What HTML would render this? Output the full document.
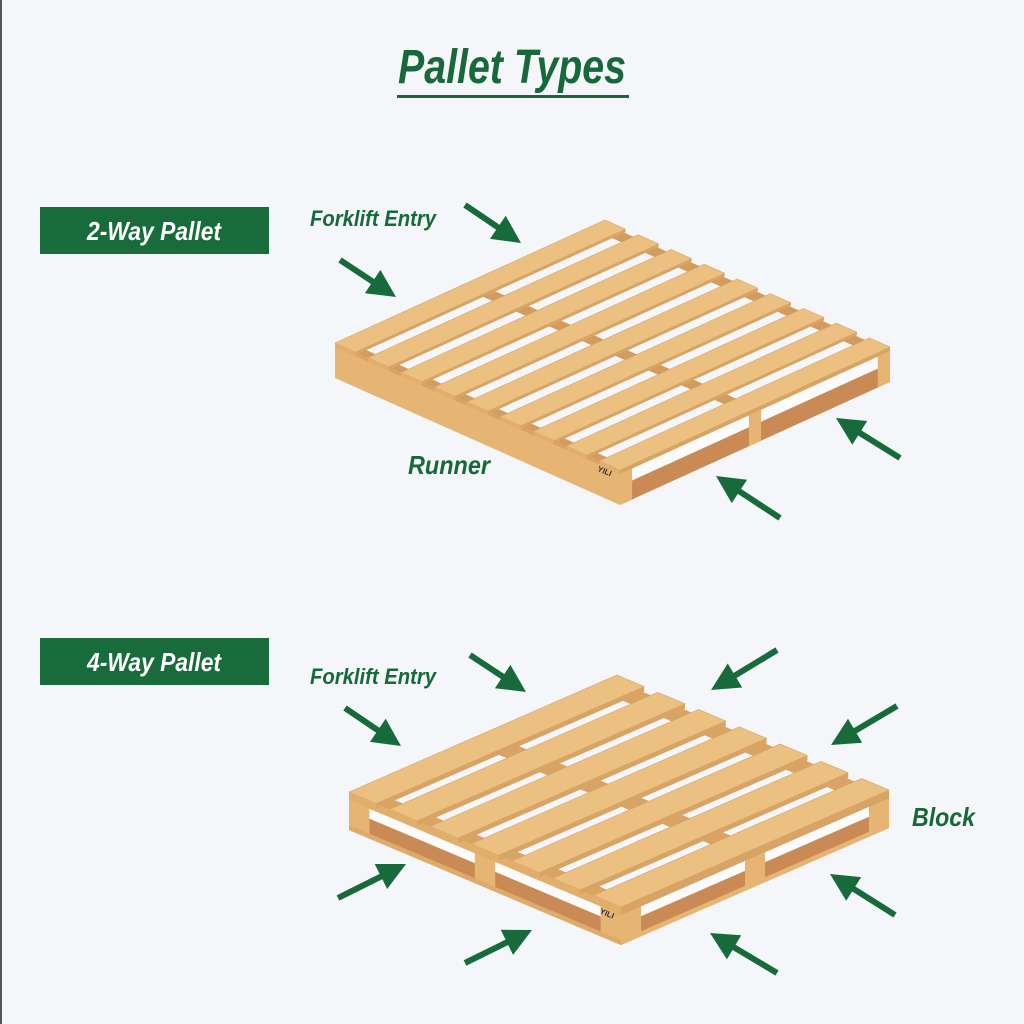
<!DOCTYPE html>
<html><head><meta charset="utf-8"><style>
html,body{margin:0;padding:0;background:#f4f6f9;}
svg{display:block}
</style></head><body>
<svg id="s" width="1024" height="1024" viewBox="0 0 1024 1024" xmlns="http://www.w3.org/2000/svg">
<rect width="1024" height="1024" fill="#f4f6f9"/>
<rect x="0" y="0" width="2" height="1024" fill="#555"/>
<text x="512" y="83" text-anchor="middle" font-family="Liberation Sans, sans-serif" font-weight="bold" font-style="italic" font-size="48" fill="#17683a" textLength="228" lengthAdjust="spacingAndGlyphs">Pallet Types</text>
<rect x="397" y="95" width="232" height="3" fill="#17683a"/>
<rect x="40" y="207" width="229" height="47" fill="#186b3b"/>
<text x="154" y="240" text-anchor="middle" font-family="Liberation Sans, sans-serif" font-weight="bold" font-style="italic" font-size="26" fill="#fff" textLength="134" lengthAdjust="spacingAndGlyphs">2-Way Pallet</text>
<rect x="40" y="638" width="229" height="47" fill="#186b3b"/>
<text x="154" y="671" text-anchor="middle" font-family="Liberation Sans, sans-serif" font-weight="bold" font-style="italic" font-size="26" fill="#fff" textLength="134" lengthAdjust="spacingAndGlyphs">4-Way Pallet</text>
<g font-family="Liberation Sans, sans-serif" font-weight="bold" font-style="italic" fill="#17683a">
<text x="310" y="226" font-size="22" textLength="126" lengthAdjust="spacingAndGlyphs">Forklift Entry</text>
<text x="310" y="684" font-size="22" textLength="126" lengthAdjust="spacingAndGlyphs">Forklift Entry</text>
<text x="408" y="474" font-size="26" textLength="82" lengthAdjust="spacingAndGlyphs">Runner</text>
<text x="912" y="826" font-size="26" textLength="63" lengthAdjust="spacingAndGlyphs">Block</text>
</g>
<g id="g"></g>
</svg>
<script>
var NS="http://www.w3.org/2000/svg",G=document.getElementById('g');
function el(t,a){var e=document.createElementNS(NS,t);for(var k in a)e.setAttribute(k,a[k]);G.appendChild(e);return e;}
function poly(pts,fill,stroke){el('polygon',{points:pts.map(function(p){return p[0].toFixed(1)+','+p[1].toFixed(1)}).join(' '),fill:fill,stroke:stroke||'none','stroke-width':0.6});}
function mk(L,A,B){return function(u,v,z){return [L[0]+u*A[0]+v*B[0],L[1]+u*A[1]+v*B[1]+(z||0)];};}
var TOP='#ebc081',EDGE='#d8a466',FACE='#e6b574',DARK='#c98a55',WHITE='#fbfbfb',LN='#d4a66a';
function quadU(P,u0,u1,v,z0,z1,f){poly([P(u0,v,z0),P(u1,v,z0),P(u1,v,z1),P(u0,v,z1)],f);}
function quadV(P,u,v0,v1,z0,z1,f){poly([P(u,v0,z0),P(u,v1,z0),P(u,v1,z1),P(u,v0,z1)],f);}
function topq(P,u0,u1,v0,v1,z,f,s){poly([P(u0,v0,z),P(u1,v0,z),P(u1,v1,z),P(u0,v1,z)],f,s);}

// ---- 2-way pallet
(function(){
 var L=[335,343],A=[270,-123],B=[285,127],H=35,P=mk(L,A,B);
 var sw=0.045, st=[[0,sw],[0.5-sw/2,0.5+sw/2],[1-sw,1]];
 st.forEach(function(s){topq(P,s[0],s[1],0,1,4,'#d39c5e');});
 quadU(P,0,1,1,0,H,DARK);
 quadU(P,0,1,1,4,16,WHITE);
 st.forEach(function(s){quadU(P,s[0],s[1],1,0,H,FACE);});
 quadU(P,0,1,1,0,4,EDGE);
 quadV(P,0,0,1,0,H,FACE);
 quadV(P,0,0,1,0,4,EDGE);
 var n=9,w=0.072,g=(1-n*w)/(n-1);
 for(var i=0;i<n;i++){var v0=i*(w+g),v1=v0+w;
  topq(P,0,1,v0,v1,0,TOP,LN);
  quadU(P,0,1,v1,0,3,EDGE);
  quadV(P,0,v0,v1,0,4,'#e2ae6c');
 }
 var t=P(0.02,0.9,16);el('text',{x:t[0],y:t[1],'font-family':'Liberation Sans, sans-serif','font-size':8,'font-weight':'bold',fill:'#333',transform:'rotate(22 '+t[0]+' '+t[1]+')'}).textContent='YILI';
})();

// ---- 4-way pallet
(function(){
 var L=[349,792],A=[268,-117],B=[272,115],H=38,P=mk(L,A,B);
 var bw=0.075, bl=[[0,bw],[0.5-bw/2,0.5+bw/2],[1-bw,1]];
 bl.forEach(function(s){topq(P,s[0],s[1],0,1,6,'#d9a463');});
 bl.forEach(function(a){bl.forEach(function(b){topq(P,a[0],a[1],b[0],b[1],6,'#c98f55');});});
 quadU(P,0,1,1,0,H,DARK);
 quadU(P,0,1,1,8,18,WHITE);
 bl.forEach(function(s){quadU(P,s[0],s[1],1,0,H,FACE);});
 quadU(P,0,1,1,0,8,EDGE);
 quadU(P,0,1,1,H-5,H,FACE);
 quadV(P,0,0,1,0,H,DARK);
 quadV(P,0,0,1,8,18,WHITE);
 bl.forEach(function(s){quadV(P,0,s[0],s[1],0,H,FACE);});
 quadV(P,0,0,1,0,8,'#e2ae6c');
 quadV(P,0,0,1,H-5,H,'#e0ab6a');
 var n=7,w=0.1,g=(1-n*w)/(n-1);
 for(var i=0;i<n;i++){var v0=i*(w+g),v1=v0+w;
  topq(P,0,1,v0,v1,0,TOP,LN);
  quadU(P,0,1,v1,0,5,EDGE);
  quadV(P,0,v0,v1,0,6,'#e2ae6c');
 }
 var t=P(0.02,0.9,20);el('text',{x:t[0],y:t[1],'font-family':'Liberation Sans, sans-serif','font-size':8,'font-weight':'bold',fill:'#333',transform:'rotate(22 '+t[0]+' '+t[1]+')'}).textContent='YILI';
})();

function arrow(x1,y1,x2,y2){
 var dx=x2-x1,dy=y2-y1,l=Math.hypot(dx,dy),ux=dx/l,uy=dy/l,nx=-uy,ny=ux,hl=28,hw=14;
 var bx=x2-ux*hl,by=y2-uy*hl;
 el('line',{x1:x1,y1:y1,x2:bx+ux*2,y2:by+uy*2,stroke:'#176b3a','stroke-width':6});
 poly([[x2,y2],[bx+nx*hw,by+ny*hw],[bx-nx*hw,by-ny*hw]],'#176b3a');
}
[[465,205,521,243],[340,260,396,297],[900,458,836,418],[780,518,716,476],
 [470,655,526,692],[345,708,401,746],[777,650,711,690],[897,706,831,745],
 [338,898,406,864],[465,963,532,930],[777,973,710,933],[895,915,830,874]].forEach(function(a){arrow.apply(null,a);});
</script>
</body></html>
